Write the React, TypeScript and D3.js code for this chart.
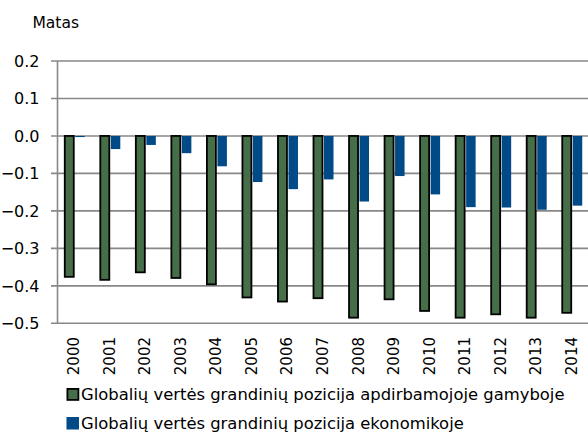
import { useEffect, useRef } from "react";
import * as d3 from "d3";

const years = [
  "2000", "2001", "2002", "2003", "2004", "2005", "2006", "2007",
  "2008", "2009", "2010", "2011", "2012", "2013", "2014",
];
const manufacturing = [
  -0.376, -0.384, -0.364, -0.379, -0.396, -0.431, -0.442, -0.433,
  -0.485, -0.436, -0.467, -0.485, -0.476, -0.485, -0.472,
];
const economy = [
  -0.003, -0.035, -0.024, -0.046, -0.081, -0.123, -0.142, -0.116,
  -0.175, -0.107, -0.156, -0.19, -0.191, -0.197, -0.186,
];
const yTicks = [0.2, 0.1, 0, -0.1, -0.2, -0.3, -0.4, -0.5];
const seriesNames = [
  "Globalių vertės grandinių pozicija apdirbamojoje gamyboje",
  "Globalių vertės grandinių pozicija ekonomikoje",
];

const width = 588;
const height = 432;
const font = "'DejaVu Sans', Verdana, sans-serif";

export default function App() {
  const svgRef = useRef<SVGSVGElement>(null);

  useEffect(() => {
    const svg = d3.select(svgRef.current);
    svg.selectAll("*").remove();

    const x = d3.scaleBand().domain(years).range([57.5, 590.5]).padding(0);
    const y = d3.scaleLinear().domain([-0.5, 0.2]).range([323.3, 61]);
    const barW = 10.5;

    // gridlines
    svg
      .append("g")
      .selectAll("line")
      .data(yTicks)
      .join("line")
      .attr("x1", 51)
      .attr("x2", width)
      .attr("y1", (d) => y(d))
      .attr("y2", (d) => y(d))
      .attr("stroke", "#888")
      .attr("stroke-width", 1.6);

    svg
      .append("line")
      .attr("x1", 57.5)
      .attr("x2", 57.5)
      .attr("y1", y(0.2))
      .attr("y2", y(-0.5))
      .attr("stroke", "#888")
      .attr("stroke-width", 1.6);

    svg
      .append("g")
      .selectAll("text")
      .data(yTicks)
      .join("text")
      .attr("x", 39.5)
      .attr("y", (d) => y(d) + 5.8)
      .attr("text-anchor", "end")
      .attr("font-family", font)
      .attr("font-size", 16)
      .attr("fill", "#000")
      .text((d) => d3.format(".1f")(d));

    svg
      .append("text")
      .attr("x", 32.5)
      .attr("y", 27.5)
      .attr("font-family", font)
      .attr("font-size", 15.5)
      .text("Matas");

    // bars
    svg
      .append("g")
      .selectAll("rect")
      .data(manufacturing)
      .join("rect")
      .attr("x", (_, i) => x(years[i])! + x.bandwidth() / 2 - barW)
      .attr("y", y(0))
      .attr("width", barW - 1.5)
      .attr("height", (d) => y(d) - y(0))
      .attr("fill", "#466e48")
      .attr("stroke", "#000")
      .attr("stroke-width", 1.8);

    svg
      .append("g")
      .selectAll("rect")
      .data(economy)
      .join("rect")
      .attr("x", (_, i) => x(years[i])! + x.bandwidth() / 2)
      .attr("y", y(0))
      .attr("width", barW - 1)
      .attr("height", (d) => y(d) - y(0))
      .attr("fill", "#004a87");

    // x labels
    svg
      .append("g")
      .selectAll("text")
      .data(years)
      .join("text")
      .attr(
        "transform",
        (d) => `translate(${x(d)! + x.bandwidth() / 2 + 4},337) rotate(-90)`
      )
      .attr("text-anchor", "end")
      .attr("font-family", font)
      .attr("font-size", 15)
      .text((d) => d);

    // legend
    const colors = ["#466e48", "#004a87"];
    const legend = svg
      .append("g")
      .selectAll("g")
      .data(seriesNames)
      .join("g")
      .attr("transform", (_, i) => `translate(66.5,${388 + i * 29})`);
    legend
      .append("rect")
      .attr("x", (_, i) => (i === 0 ? 0.9 : 0))
      .attr("y", (_, i) => (i === 0 ? 0.9 : 0))
      .attr("width", (_, i) => (i === 0 ? 11 : 12.5))
      .attr("height", (_, i) => (i === 0 ? 11 : 12.5))
      .attr("fill", (_, i) => colors[i])
      .attr("stroke", (_, i) => (i === 0 ? "#000" : "none"))
      .attr("stroke-width", 1.8);
    legend
      .append("text")
      .attr("x", 14.5)
      .attr("y", 12.3)
      .attr("font-family", font)
      .attr("font-size", 16.4)
      .text((d) => d);
  }, []);

  return (
    <svg
      ref={svgRef}
      width={width}
      height={height}
      style={{ position: "absolute", left: 0, top: 0, background: "#fff" }}
    />
  );
}
